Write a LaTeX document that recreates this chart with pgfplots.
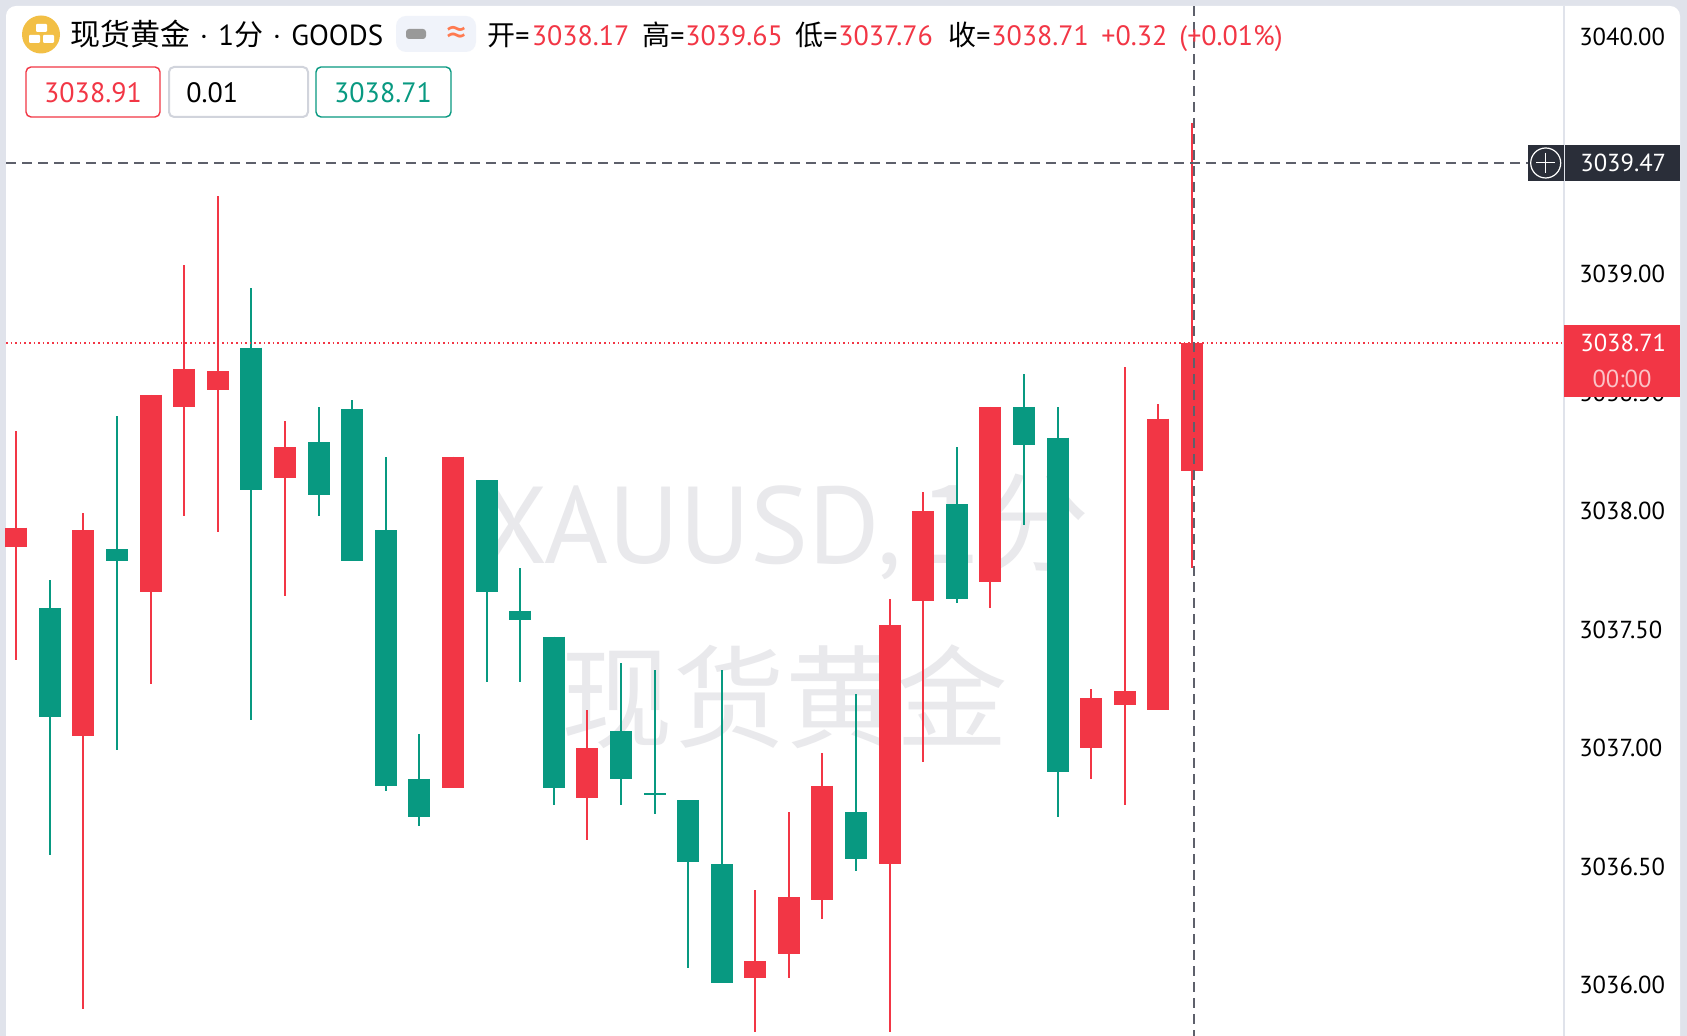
\documentclass[border=0pt]{standalone}
\usepackage{fontspec}
\usepackage{pgfplots}
\usepackage{pgfplotstable}
\pgfplotsset{compat=1.18}
\setmainfont{PT Sans}
\newfontfamily\cjk{Noto Sans CJK SC}
\definecolor{upred}{HTML}{F23645}
\definecolor{downgreen}{HTML}{089981}
\definecolor{frame}{HTML}{E0E3EB}
\definecolor{btn}{HTML}{D1D4DC}
\definecolor{cross}{HTML}{5D606B}
\definecolor{darklabel}{HTML}{2A2E39}
\definecolor{wmark}{HTML}{E9E9EC}
\definecolor{pill}{HTML}{F0F3FA}
\definecolor{gold}{HTML}{F2BF45}
\definecolor{wave}{HTML}{FF7A50}

% i high bodytop bodybottom low
\pgfplotstableread{
i high top bot low
0 3038.34 3037.93 3037.85 3037.37
2 3037.99 3037.92 3037.05 3035.90
4 3038.49 3038.49 3037.66 3037.27
5 3039.04 3038.60 3038.44 3037.98
6 3039.33 3038.59 3038.51 3037.91
8 3038.38 3038.27 3038.14 3037.64
13 3038.23 3038.23 3036.83 3036.83
17 3037.16 3037.00 3036.79 3036.61
22 3036.40 3036.10 3036.03 3035.80
23 3036.73 3036.37 3036.13 3036.03
24 3036.98 3036.84 3036.36 3036.28
26 3037.63 3037.52 3036.51 3035.80
27 3038.08 3038.00 3037.62 3036.94
29 3038.44 3038.44 3037.70 3037.59
32 3037.25 3037.21 3037.00 3036.87
33 3038.61 3037.24 3037.18 3036.76
34 3038.45 3038.39 3037.16 3037.16
35 3039.64 3038.71 3038.17 3037.76
}\upcandles
\pgfplotstableread{
i high top bot low
1 3037.71 3037.59 3037.13 3036.55
3 3038.40 3037.84 3037.79 3036.99
7 3038.94 3038.69 3038.09 3037.12
9 3038.44 3038.29 3038.07 3037.98
10 3038.47 3038.43 3037.79 3037.79
11 3038.23 3037.92 3036.84 3036.82
12 3037.06 3036.87 3036.71 3036.67
14 3038.13 3038.13 3037.66 3037.28
15 3037.76 3037.58 3037.54 3037.28
16 3037.47 3037.47 3036.83 3036.76
18 3037.36 3037.07 3036.87 3036.76
19 3037.33 3036.81 3036.80 3036.72
20 3036.78 3036.78 3036.52 3036.07
21 3037.33 3036.51 3036.01 3036.01
25 3037.23 3036.73 3036.53 3036.48
28 3038.27 3038.03 3037.63 3037.61
30 3038.58 3038.44 3038.28 3037.94
31 3038.44 3038.31 3036.90 3036.71
}\downcandles

\begin{document}
\begin{tikzpicture}[x=1pt,y=1pt]
\clip (0,0) rectangle (843.5,518);
% pixel coordinates of the reference, origin top left
\begin{scope}[x=0.5pt,y=-0.5pt,yshift=518pt]
	\fill[frame] (0,0) rectangle (1687,1036);
	\fill[white,rounded corners=5pt] (6,6) rectangle (1680,1060);
	\node[wmark,font=\fontsize{54.6}{60}\selectfont] at (785,527) {XAUUSD,\,{\cjk 1分}};
	\node[wmark,font=\fontsize{55.8}{60}\selectfont\cjk] at (785,697) {现货黄金};
	\draw[frame,line width=0.8pt] (1564,6) -- (1564,1036);
\end{scope}
\begin{axis}[
	at={(0,0)}, anchor=south west,
	scale only axis,
	width=782pt, height=518pt,
	xmin=-0.48, xmax=46.07,
	ymin=3035.785, ymax=3040.157,
	axis x line=none,
	axis y line=right,
	axis line style={draw=none},
	ytick={3036,3036.5,3037,3037.5,3038,3038.5,3039,3040},
	ytick style={draw=none},
	yticklabel style={
		/pgf/number format/fixed,
		/pgf/number format/fixed zerofill,
		/pgf/number format/precision=2,
		/pgf/number format/1000 sep={},
		/pgf/number format/assume math mode=true,
		font=\fontsize{12.3}{13}\selectfont, black, anchor=west, inner sep=0pt, xshift=5.3pt},
	scaled y ticks=false,
]
% wicks
\addplot[draw=none, no markers, error bars/.cd, y dir=both, y explicit, error mark=none,
	error bar style={line width=1pt, color=upred}]
	table[x=i, y=top, y error plus expr=\thisrow{high}-\thisrow{top}, y error minus expr=\thisrow{top}-\thisrow{low}] {\upcandles};
\addplot[draw=none, no markers, error bars/.cd, y dir=both, y explicit, error mark=none,
	error bar style={line width=1pt, color=downgreen}]
	table[x=i, y=top, y error plus expr=\thisrow{high}-\thisrow{top}, y error minus expr=\thisrow{top}-\thisrow{low}] {\downcandles};
% bodies
\addplot[draw=none, no markers, error bars/.cd, y dir=minus, y explicit, error mark=none,
	error bar style={line width=11pt, color=upred}]
	table[x=i, y=top, y error minus expr=\thisrow{top}-\thisrow{bot}] {\upcandles};
\addplot[draw=none, no markers, error bars/.cd, y dir=minus, y explicit, error mark=none,
	error bar style={line width=11pt, color=downgreen}]
	table[x=i, y=top, y error minus expr=\thisrow{top}-\thisrow{bot}] {\downcandles};
% last price and crosshair
\addplot[upred, line width=0.8pt, dash pattern=on 0.8pt off 1.5pt] coordinates {(-0.3,3038.71) (46.07,3038.71)};
\addplot[cross, line width=0.8pt, dash pattern=on 5pt off 3pt] coordinates {(-0.3,3039.47) (46.07,3039.47)};
\addplot[cross, line width=0.8pt, dash pattern=on 5pt off 3pt] coordinates {(35.05,3040.13) (35.05,3035.785)};
\end{axis}
\begin{scope}[x=0.5pt,y=-0.5pt,yshift=518pt,every node/.style={inner sep=0pt,font=\fontsize{14}{16}\selectfont}]
	% icon
	\fill[gold] (41,34.5) circle (9.5pt);
	\fill[white,rounded corners=0.5pt] (36,24) rectangle (47,32);
	\fill[white,rounded corners=0.5pt] (29,35) rectangle (40,43);
	\fill[white,rounded corners=0.5pt] (43,35) rectangle (54,43);
	% title line
	\node[anchor=base west,font=\fontsize{15}{16}\selectfont\cjk] at (70,46) {现货黄金};
	\node[anchor=base,font=\fontsize{14.5}{16}\selectfont] at (204,46) {·};
	\node[anchor=base west,font=\fontsize{14.5}{16}\selectfont] at (218,46) {1{\cjk 分}};
	\node[anchor=base,font=\fontsize{14.5}{16}\selectfont] at (277,46) {·};
	\node[anchor=base west,font=\fontsize{14.5}{16}\selectfont] at (291,46) {GOODS};
	\fill[pill,rounded corners=5pt] (396,16) rectangle (476,52);
	\fill[black!40,rounded corners=1.5pt] (406,29) rectangle (426,39);
	\node[font=\fontsize{20}{20}\selectfont,color=wave] at (457,36) {≈};
	\node[anchor=base west] at (487,46) {{\cjk 开}=};
	\node[anchor=base west,upred] at (531.5,46) {3038.17};
	\node[anchor=base west] at (642,46) {{\cjk 高}=};
	\node[anchor=base west,upred] at (685,46) {3039.65};
	\node[anchor=base west] at (795,46) {{\cjk 低}=};
	\node[anchor=base west,upred] at (838,46) {3037.76};
	\node[anchor=base west] at (948,46) {{\cjk 收}=};
	\node[anchor=base west,upred] at (991,46) {3038.71};
	\node[anchor=base west,upred] at (1101,46) {+0.32};
	\node[anchor=base west,upred] at (1179,46) {(+0.01\%)};
	% bid / spread / ask boxes
	\draw[upred,line width=0.7pt,fill=white,rounded corners=2.5pt] (26,67) rectangle (160,117);
	\node[anchor=base,upred] at (93,103) {3038.91};
	\draw[btn,line width=1pt,fill=white,rounded corners=2.5pt] (169,67) rectangle (308,117);
	\node[anchor=base west] at (186,103) {0.01};
	\draw[downgreen,line width=0.7pt,fill=white,rounded corners=2.5pt] (316,67) rectangle (451,117);
	\node[anchor=base,downgreen] at (383,103) {3038.71};
	% crosshair price label
	\fill[darklabel] (1528,145) rectangle (1680,181);
	\draw[frame,line width=0.4pt] (1564,145) -- (1564,181);
	\draw[white,line width=0.6pt] (1545.7,163) circle (7.5pt);
	\draw[white,line width=0.5pt] (1536,163) -- (1555,163) (1545.7,153) -- (1545.7,173);
	\node[anchor=base west,white,font=\fontsize{12.3}{13}\selectfont] at (1580,172) {3039.47};
	% last price label
	\fill[upred] (1564,325) rectangle (1680,397);
	\node[anchor=base west,white,font=\fontsize{12.3}{13}\selectfont] at (1580,352) {3038.71};
	\node[anchor=base,white!70!upred,font=\fontsize{12.3}{13}\selectfont] at (1622,388) {00:00};
\end{scope}
\end{tikzpicture}
\end{document}
